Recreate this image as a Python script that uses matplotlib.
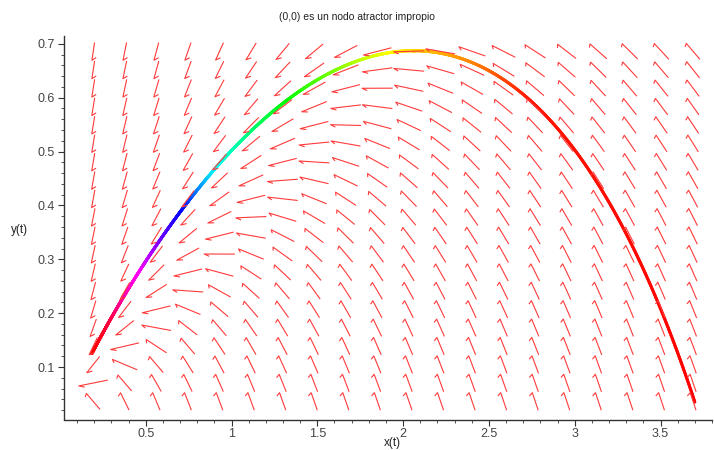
import numpy as np
import matplotlib
matplotlib.use("Agg")
import matplotlib.pyplot as plt
from matplotlib.collections import LineCollection
from matplotlib.colors import hsv_to_rgb
from matplotlib.ticker import MultipleLocator

# sistema lineal  x' = -x - y ,  y' = x - 3y   (nodo atractor impropio en (0,0))
A = np.array([[-1.0, -1.0],
              [1.0, -3.0]])

# condicion inicial y tiempo de la trayectoria
x_init, y_init = 3.70, 0.035
t_end = 2.05

# rejilla del campo de direcciones (20 x 20)
field_x = (0.102, 3.782)
field_y = (0.019, 0.703)
n_grid = 20

# color de la curva segun t (tono en grados)
t_stops = [0.0, 0.27, 0.37, 0.55, 0.81, 1.07, 1.23, 1.50, 1.80, 2.05]
hue_stops = [0, 5, 30, 60, 120, 180, 240, 300, 345, 360]

# ejes
x_view = (0.0207, 3.80)
y_view = (0.0026, 0.715)
title = "(0,0) es un nodo atractor impropio"


def rhs(p):
    return A @ p


def solve(p0, t1, n=2000):
    h = t1 / n
    pts = [np.array(p0, dtype=float)]
    p = pts[0]
    for _ in range(n):
        k1 = rhs(p)
        k2 = rhs(p + h / 2 * k1)
        k3 = rhs(p + h / 2 * k2)
        k4 = rhs(p + h * k3)
        p = p + h / 6 * (k1 + 2 * k2 + 2 * k3 + k4)
        pts.append(p)
    return np.linspace(0, t1, n + 1), np.array(pts)


plt.rcParams['font.family'] = ['Liberation Sans', 'DejaVu Sans']

fig = plt.figure(figsize=(7.14, 4.5), dpi=100, facecolor='white')
ax = fig.add_axes([63.5 / 714, 1 - 419.5 / 450, (712 - 63.5) / 714, (419.5 - 35.7) / 450])
ax.set_xlim(*x_view)
ax.set_ylim(*y_view)

# trayectoria coloreada
t, P = solve([x_init, y_init], t_end)
segs = np.stack([P[:-1], P[1:]], axis=1)
tm = 0.5 * (t[:-1] + t[1:])
hue = np.interp(tm, t_stops, hue_stops) / 360.0 % 1.0
cols = hsv_to_rgb(np.column_stack([hue, np.ones_like(hue), np.ones_like(hue)]))
ax.add_collection(LineCollection(segs, colors=cols, linewidths=2.2, capstyle='round', zorder=2))

# campo de direcciones: flechas normalizadas en unidades de celda
dx = (field_x[1] - field_x[0]) / n_grid
dy = (field_y[1] - field_y[0]) / n_grid
xs = field_x[0] + dx * (np.arange(n_grid) + 0.5)
ys = field_y[0] + dy * (np.arange(n_grid) + 0.5)
X, Y = np.meshgrid(xs, ys)
U = A[0, 0] * X + A[0, 1] * Y
V = A[1, 0] * X + A[1, 1] * Y
u, v = U / dx, V / dy
nrm = np.hypot(u, v)
u, v = u / nrm, v / nrm
L = 0.97
th = np.radians(38)
blen = 0.2
tail_u, tail_v = -u * L / 2, -v * L / 2
tip_u, tip_v = u * L / 2, v * L / 2
# barba a la izquierda del sentido de avance
bu = -u * np.cos(th) + -v * np.sin(th)
bv = u * np.sin(th) + -v * np.cos(th)
barb_u, barb_v = tip_u + blen * bu, tip_v + blen * bv

arrows = []
for i in range(n_grid):
    for j in range(n_grid):
        cx, cy = X[i, j], Y[i, j]
        arrows.append([(cx + tail_u[i, j] * dx, cy + tail_v[i, j] * dy),
                       (cx + tip_u[i, j] * dx, cy + tip_v[i, j] * dy),
                       (cx + barb_u[i, j] * dx, cy + barb_v[i, j] * dy)])
ax.add_collection(LineCollection(arrows, colors='#ff3a3a', linewidths=0.8, zorder=3))

# estilo tipo Maple
for s in ['top', 'right']:
    ax.spines[s].set_visible(False)
for s in ['left', 'bottom']:
    ax.spines[s].set_color('#333333')
    ax.spines[s].set_linewidth(1.0)
ax.xaxis.set_minor_locator(MultipleLocator(0.1))
ax.yaxis.set_minor_locator(MultipleLocator(0.02))
ax.set_xticks([0.5, 1, 1.5, 2, 2.5, 3, 3.5])
ax.set_xticklabels(['0.5', '1', '1.5', '2', '2.5', '3', '3.5'])
ax.set_yticks([0.1, 0.2, 0.3, 0.4, 0.5, 0.6, 0.7])
ax.tick_params(which='major', direction='out', length=4, width=0.8, color='#333333',
               labelsize=9, labelcolor='#444444', pad=2)
ax.tick_params(which='minor', direction='out', length=2, width=0.6, color='#333333')

fig.text(0.5, 1 - 17 / 450, title, ha='center', va='center', fontsize=7.5, color='#222222')
fig.text(392 / 714, 1 - 443 / 450, 'x(t)', ha='center', va='center', fontsize=8.5, color='#222222')
fig.text(20 / 714, 1 - 230 / 450, 'y(t)', ha='center', va='center', fontsize=8.5, color='#222222')

fig.savefig('out.png', dpi=100, facecolor='white')
